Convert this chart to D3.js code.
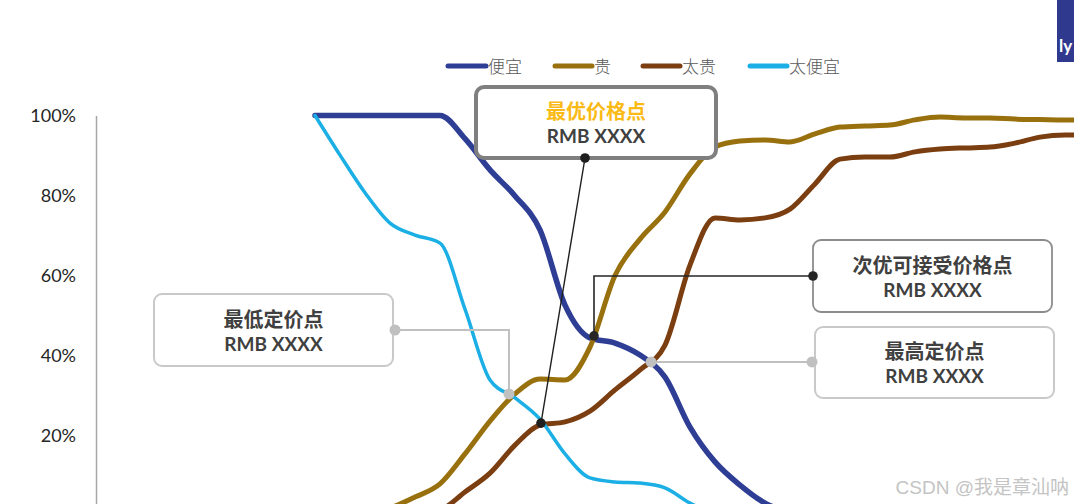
<!DOCTYPE html>
<html>
<head>
<meta charset="utf-8">
<script src="https://cdn.jsdelivr.net/npm/d3@7"></script>
<style>
  html, body { margin: 0; padding: 0; background: #fff; }
  svg { display: block; }
</style>
</head>
<body>
<svg id="chart" width="1074" height="504"></svg>
<script>
// ---- data ----
const pricePoints = d3.range(0, 32); // price steps (index)
const cheap        = [100,100,100,100,100,100,94.2,86.4,79.9,71.4,52.6,44.4,43.1,40.1,34.6,22.1,13.4,7.6,3.1,0.8,0,0,0,0,0,0,0,0,0,0,0,0];
const expensive    = [0,0.2,0.6,1.9,4.6,7.9,15.4,23.6,30.4,34.1,33.9,42.1,60,69.1,75.9,85.4,92.1,93.6,93.9,93.4,95.4,97.1,97.4,97.6,98.9,99.6,99.4,99.4,99.1,99,98.9,98.9];
const tooExpensive = [0,0,0,0.2,0.6,1.4,5.9,10.6,17.6,22.6,23.4,26.1,31.4,36.4,42.6,62.6,74.4,73.9,74.4,76.6,82.9,89.1,89.6,89.6,90.9,91.6,91.9,92.1,93.1,94.6,95.1,95.1];
const tooCheap     = [100,90.1,80.7,73.1,70.1,68.1,51.6,33.9,29.4,24.1,15.4,9.4,8.4,8.1,6.9,3.1,0.5,0,0,0,0,0,0,0,0,0,0,0];
const seriesNames  = ["便宜", "贵", "太贵", "太便宜"];
const yTickValues  = [20, 40, 60, 80, 100];
// annotation points (price index, percent)
const annoNames    = ["最优价格点", "次优可接受价格点", "最低定价点", "最高定价点"];
const annoPrice    = [9.04, 11.16, 7.76, 13.44];
const annoPct      = [23.1, 44.9, 30.4, 38.4];
const annoValue    = ["RMB XXXX", "RMB XXXX", "RMB XXXX", "RMB XXXX"];

// ---- styles ----
const colors = ["#2E3E94", "#98700E", "#7B3E10", "#1BAFE5"];
const widths = [5.5, 5, 5, 3.5];

const svg = d3.select("#chart");
const x = d3.scaleLinear().domain([0, 31]).range([315, 1090]);
const y = d3.scaleLinear().domain([0, 100]).range([515.5, 115.5]);

// y axis
const yAxis = d3.axisLeft(y)
  .tickValues(yTickValues)
  .tickFormat(d => d + "%")
  .tickSize(0)
  .tickSizeOuter(0)
  .tickPadding(20);
const ga = svg.append("g").attr("transform", "translate(96,0)").call(yAxis);
ga.select(".domain").attr("stroke", "#A6A6A6").attr("stroke-width", 1.5);
ga.selectAll("text")
  .attr("fill", "#262626")
  .style("font-family", "Lato, 'Open Sans', sans-serif")
  .style("font-size", "18px");

// lines
const allSeries = [cheap, expensive, tooExpensive, tooCheap];
const line = d3.line()
  .defined(d => d != null)
  .x((d, i) => x(pricePoints[i]))
  .y(d => y(d))
  .curve(d3.curveMonotoneX);

allSeries.forEach((s, k) => {
  svg.append("path")
    .datum(s)
    .attr("d", line)
    .attr("fill", "none")
    .attr("stroke", colors[k])
    .attr("stroke-width", widths[k])
    .attr("stroke-linejoin", "round")
    .attr("stroke-linecap", "round");
});

// legend
const legendX = [448, 555, 643, 750];
const legendLen = [38, 37, 37, 37];
const lg = svg.append("g");
seriesNames.forEach((n, k) => {
  lg.append("line")
    .attr("x1", legendX[k]).attr("x2", legendX[k] + legendLen[k])
    .attr("y1", 66).attr("y2", 66)
    .attr("stroke", colors[k]).attr("stroke-width", 5)
    .attr("stroke-linecap", "round");
  lg.append("text")
    .attr("x", legendX[k] + legendLen[k] + 2)
    .attr("y", 65)
    .attr("dominant-baseline", "central")
    .attr("fill", "#595959")
    .style("font-family", "'Noto Sans CJK SC', sans-serif")
    .style("font-weight", 300)
    .style("font-size", "17px")
    .text(n);
});

// annotation boxes
const boxes = [
  {x: 476, y: 87,  w: 240, h: 71, stroke: "#7F7F7F", sw: 4,   titleColor: "#FBBA16"},
  {x: 813, y: 240, w: 239, h: 72, stroke: "#8C8C8C", sw: 1.8, titleColor: "#404040"},
  {x: 154, y: 294, w: 239, h: 72, stroke: "#C9C9C9", sw: 2,   titleColor: "#404040"},
  {x: 815, y: 327, w: 239, h: 71, stroke: "#C9C9C9", sw: 2,   titleColor: "#404040"}
];
const connColor = ["#1F1F1F", "#262626", "#C0C0C0", "#C0C0C0"];

// connectors
const px = i => x(annoPrice[i]);
const py = i => y(annoPct[i]);
const conn = svg.append("g");
conn.append("path")
  .attr("d", d3.line()([[585, boxes[0].y + boxes[0].h], [px(0), py(0)]]))
  .attr("stroke", connColor[0]).attr("stroke-width", 1.4).attr("fill", "none");
conn.append("path")
  .attr("d", d3.line()([[boxes[1].x, 276], [px(1), 276], [px(1), py(1)]]))
  .attr("stroke", connColor[1]).attr("stroke-width", 1.6).attr("fill", "none");
conn.append("path")
  .attr("d", d3.line()([[boxes[2].x + boxes[2].w + 2, 330], [px(2), 330], [px(2), py(2)]]))
  .attr("stroke", connColor[2]).attr("stroke-width", 2).attr("fill", "none");
conn.append("path")
  .attr("d", d3.line()([[boxes[3].x - 3, py(3)], [px(3), py(3)]]))
  .attr("stroke", connColor[3]).attr("stroke-width", 2).attr("fill", "none");

// boxes
boxes.forEach((b, i) => {
  const g = svg.append("g");
  g.append("rect")
    .attr("x", b.x).attr("y", b.y).attr("width", b.w).attr("height", b.h)
    .attr("rx", 8).attr("ry", 8)
    .attr("fill", "#fff").attr("stroke", b.stroke).attr("stroke-width", b.sw);
  g.append("text")
    .attr("x", b.x + b.w / 2).attr("y", b.y + b.h / 2 - 12)
    .attr("text-anchor", "middle").attr("dominant-baseline", "central")
    .attr("fill", b.titleColor)
    .style("font-family", "'Noto Sans CJK SC', sans-serif")
    .style("font-weight", 700).style("font-size", "20px")
    .text(annoNames[i]);
  g.append("text")
    .attr("x", b.x + b.w / 2).attr("y", b.y + b.h / 2 + 13)
    .attr("text-anchor", "middle").attr("dominant-baseline", "central")
    .attr("fill", "#404040")
    .style("font-family", "Lato, sans-serif")
    .style("font-weight", 700).style("font-size", "19px")
    .text(annoValue[i]);
});

// connector end dots
const dots = [
  [585, boxes[0].y + boxes[0].h, 0], [px(0), py(0), 0],
  [boxes[1].x, 276, 1], [px(1), py(1), 1],
  [boxes[2].x + boxes[2].w + 2, 330, 2], [px(2), py(2), 2],
  [boxes[3].x - 3, py(3), 3], [px(3), py(3), 3]
];
svg.append("g").selectAll("circle").data(dots).join("circle")
  .attr("cx", d => d[0]).attr("cy", d => d[1])
  .attr("r", d => d[2] < 2 ? 4.8 : 5.5)
  .attr("fill", d => connColor[d[2]]);

// top-right corner fragment
svg.append("rect").attr("x", 1057).attr("y", 0).attr("width", 17).attr("height", 62).attr("fill", "#2F3A8F");
svg.append("text").attr("x", 1059).attr("y", 52).attr("fill", "#fff")
  .style("font-family", "Lato, sans-serif").style("font-weight", 700).style("font-size", "17px").text("ly");

// watermark
svg.append("text").attr("x", 1069).attr("y", 487)
  .attr("text-anchor", "end").attr("dominant-baseline", "central")
  .attr("fill", "#C4C4C4")
  .style("font-family", "'Liberation Sans', 'Noto Sans CJK SC', sans-serif")
  .style("font-size", "19px")
  .text("CSDN @我是章汕呐");
</script>
</body>
</html>
